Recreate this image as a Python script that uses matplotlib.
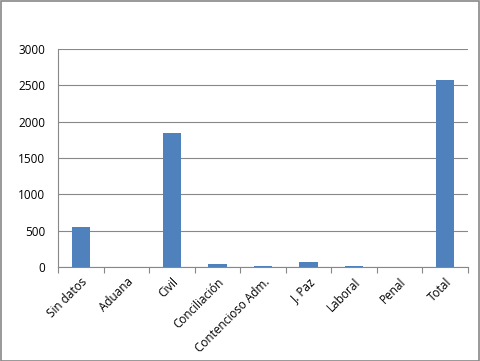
import matplotlib
matplotlib.use("Agg")
import matplotlib.pyplot as plt
import numpy as np
from matplotlib.patches import Rectangle

categories = ["Sin datos", "Aduana", "Civil", "Conciliación", "Contencioso Adm.",
              "J. Paz", "Laboral", "Penal", "Total"]
values = [553, 0, 1845, 48, 20, 62, 20, 0, 2570]
yticks = [0, 500, 1000, 1500, 2000, 2500, 3000]

plt.rcParams['font.family'] = ['Open Sans', 'DejaVu Sans']
fig = plt.figure(figsize=(4.8, 3.61), dpi=100)
W, H = 480, 361
ax = fig.add_axes([58/W, 1-267/H, (468-58)/W, (267-49)/H])
x = np.arange(len(categories))
ax.bar(x, values, width=0.4, color="#4F81BD", zorder=3)
ax.set_xlim(-0.5, len(categories)-0.5)
ax.set_ylim(0, 3000)
ax.set_yticks(yticks)
ax.set_yticklabels([str(v) for v in yticks], fontsize=8.5)
ax.yaxis.grid(True, color="#888888", linewidth=0.8, zorder=0)
ax.tick_params(axis='y', length=0, pad=9)
ax.set_xticks(x)
ax.set_xticklabels(categories, rotation=45, ha='right', rotation_mode='anchor', fontsize=8.5)
ax.tick_params(axis='x', length=0, pad=6)
ax.set_xticks(np.arange(-0.5, len(categories), 1), minor=True)
ax.tick_params(axis='x', which='minor', length=4, color="#888888", width=0.8)
for s in ['top', 'right']:
    ax.spines[s].set_visible(False)
for s in ['left', 'bottom']:
    ax.spines[s].set_color("#888888")
    ax.spines[s].set_linewidth(0.8)
fig.patches.append(Rectangle((0.5/W, 0.5/H), 1-1.5/W, 1-1.5/H, transform=fig.transFigure,
                             fill=False, edgecolor="#888888", linewidth=1.2))
fig.savefig("out.png", dpi=100)
